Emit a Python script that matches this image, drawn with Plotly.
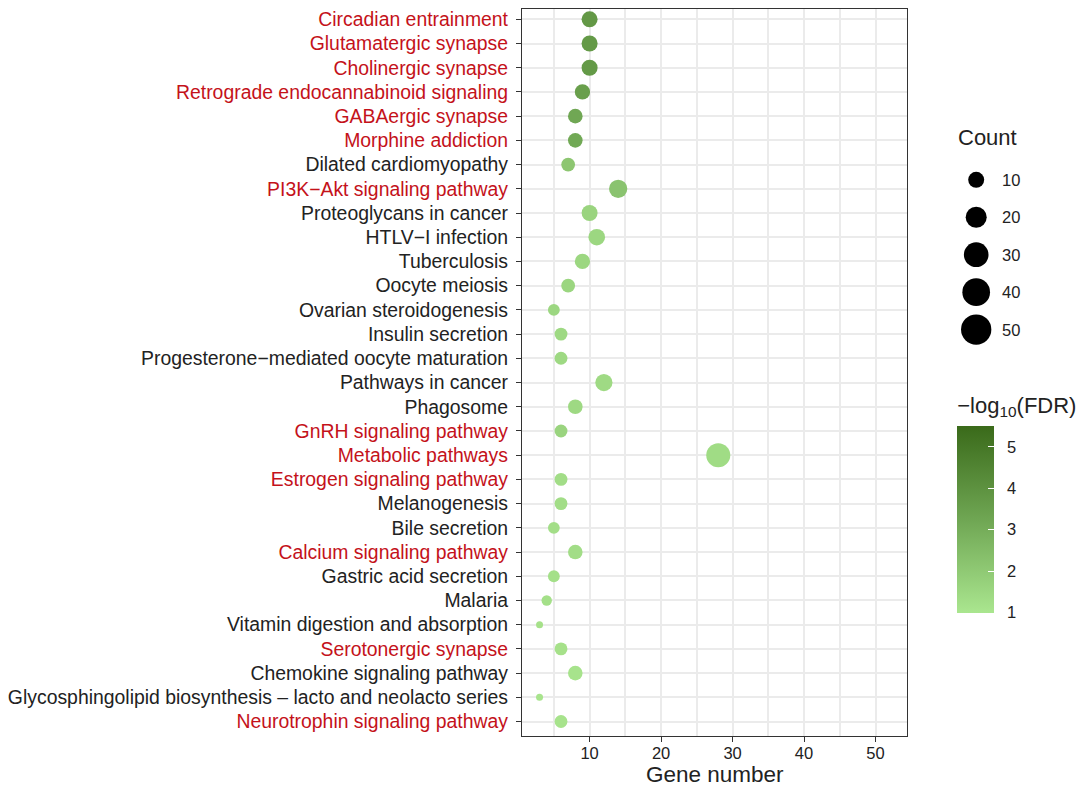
import numpy as np
import plotly.graph_objects as go

# page body adds an 8px margin, so the figure is a bit smaller than the window
W, H = 1076, 787
OFF = 8
FONT = "Liberation Sans, Arial, Helvetica, sans-serif"
RED = "#c4121a"
TXT = "#222222"

# KEGG pathways, top to bottom as drawn
pathways = [
    "Circadian entrainment", "Glutamatergic synapse", "Cholinergic synapse",
    "Retrograde endocannabinoid signaling", "GABAergic synapse", "Morphine addiction",
    "Dilated cardiomyopathy", "PI3K\u2212Akt signaling pathway", "Proteoglycans in cancer",
    "HTLV\u2212I infection", "Tuberculosis", "Oocyte meiosis", "Ovarian steroidogenesis",
    "Insulin secretion", "Progesterone\u2212mediated oocyte maturation", "Pathways in cancer",
    "Phagosome", "GnRH signaling pathway", "Metabolic pathways", "Estrogen signaling pathway",
    "Melanogenesis", "Bile secretion", "Calcium signaling pathway", "Gastric acid secretion",
    "Malaria", "Vitamin digestion and absorption", "Serotonergic synapse",
    "Chemokine signaling pathway",
    "Glycosphingolipid biosynthesis \u2013 lacto and neolacto series",
    "Neurotrophin signaling pathway",
]
highlighted = [1, 1, 1, 1, 1, 1, 0, 1, 0, 0, 0, 0, 0, 0, 0, 0, 0, 1, 1, 1,
               0, 0, 1, 0, 0, 0, 1, 0, 0, 1]
gene_number = [10, 10, 10, 9, 8, 8, 7, 14, 10, 11, 9, 7, 5, 6, 6, 12, 8, 6, 28, 6,
               6, 5, 8, 5, 4, 3, 6, 8, 3, 6]
neg_log_fdr = [3.75, 3.7, 3.7, 3.5, 3.2, 3.15, 2.1, 2.2, 1.6, 1.5, 1.5, 1.55, 1.5, 1.45,
               1.45, 1.4, 1.45, 1.6, 1.35, 1.3, 1.3, 1.25, 1.3, 1.2, 1.2, 1.15, 1.15,
               1.1, 1.05, 1.1]

count_breaks = [10, 20, 30, 40, 50]
fdr_ticks = [1, 2, 3, 4, 5]


def xp(px):
    return (px - OFF) / W


def yp(py):
    return 1 - (py - OFF) / H


def dot_size(v):
    # area-style size scale, limits 3..50 -> 7..30 px diameter
    return 7 + 23.3 * np.sqrt((np.asarray(v, dtype=float) - 3) / 47)


ticktext = [f'<span style="color:{RED if h else TXT}">{p}</span>'
            for p, h in zip(pathways, highlighted)]

fig = go.Figure()

fig.add_trace(go.Scatter(
    x=gene_number, y=pathways, mode="markers",
    marker=dict(
        size=dot_size(gene_number), color=neg_log_fdr, opacity=1,
        colorscale=[[0, "#aae68f"], [0.5, "#6fa653"], [1, "#3a6a1a"]],
        cmin=0.98, cmax=5.5, line=dict(width=0),
        colorbar=dict(
            title=dict(text="\u2212log<sub>10</sub>(FDR)", side="top",
                       font=dict(size=22, color=TXT, family=FONT)),
            x=xp(957), xanchor="left", xpad=0,
            y=yp(503), yanchor="middle", ypad=0,
            lenmode="pixels", len=220, thickness=37, outlinewidth=0,
            tickvals=fdr_ticks, ticktext=["\u00a0\u00a0" + str(t) for t in fdr_ticks],
            ticks="inside", ticklen=6, tickcolor="white",
            tickfont=dict(size=16.5, color=TXT, family=FONT),
        ),
    ),
    showlegend=False, hoverinfo="x+y",
))

# size legend drawn on its own small axes
fig.add_trace(go.Scatter(
    x=[0] * len(count_breaks), y=count_breaks, mode="markers", cliponaxis=False,
    marker=dict(size=dot_size(count_breaks), color="#000000", opacity=1,
                line=dict(width=0)),
    xaxis="x2", yaxis="y2", showlegend=False, hoverinfo="skip",
))

annotations = [dict(text="Count", x=xp(956), y=yp(137), xref="paper", yref="paper",
                    xanchor="left", yanchor="middle", showarrow=False,
                    font=dict(size=22, color=TXT, family=FONT))]
for b in count_breaks:
    annotations.append(dict(text=str(b), x=xp(1000), y=b, xref="paper", yref="y2",
                            xanchor="left", yanchor="middle", showarrow=False,
                            font=dict(size=16.5, color=TXT, family=FONT)))

n = len(pathways)
fig.update_layout(
    width=W, height=H, margin=dict(l=0, r=0, t=0, b=0),
    paper_bgcolor="white", plot_bgcolor="white",
    font=dict(family=FONT, size=16, color=TXT),
    annotations=annotations,
    xaxis=dict(
        domain=[xp(521), xp(907)], range=[0.55, 54.45],
        tickvals=[10, 20, 30, 40, 50], ticks="outside", ticklen=5, tickcolor="#333",
        tickfont=dict(size=16.5, color=TXT), ticklabelstandoff=-3,
        showgrid=True, gridcolor="#ebebeb", gridwidth=1.5, zeroline=False,
        minor=dict(tickvals=[5, 15, 25, 35, 45], showgrid=True, gridcolor="#ebebeb",
                   gridwidth=1.5),
        showline=True, linecolor="#333", linewidth=1.3, mirror=True,
        title=dict(text="Gene number", font=dict(size=22.5, color=TXT), standoff=4),
        anchor="y",
    ),
    yaxis=dict(
        domain=[yp(736), 1.0], type="category",
        categoryorder="array", categoryarray=pathways[::-1],
        range=[-0.6, n - 1 + 0.425],
        tickvals=pathways, ticktext=ticktext, ticklabelstandoff=4,
        ticks="outside", ticklen=5, tickcolor="#333", tickfont=dict(size=19.4),
        showgrid=True, gridcolor="#ebebeb", gridwidth=1.5, zeroline=False,
        showline=True, linecolor="#333", linewidth=1.3, mirror=True,
        anchor="x",
    ),
    xaxis2=dict(domain=[xp(966), xp(986)], range=[-1, 1], visible=False, anchor="y2"),
    yaxis2=dict(domain=[yp(348), yp(160)], range=[55.07, 4.93], visible=False,
                anchor="x2"),
)

fig.write_html("out.html")
